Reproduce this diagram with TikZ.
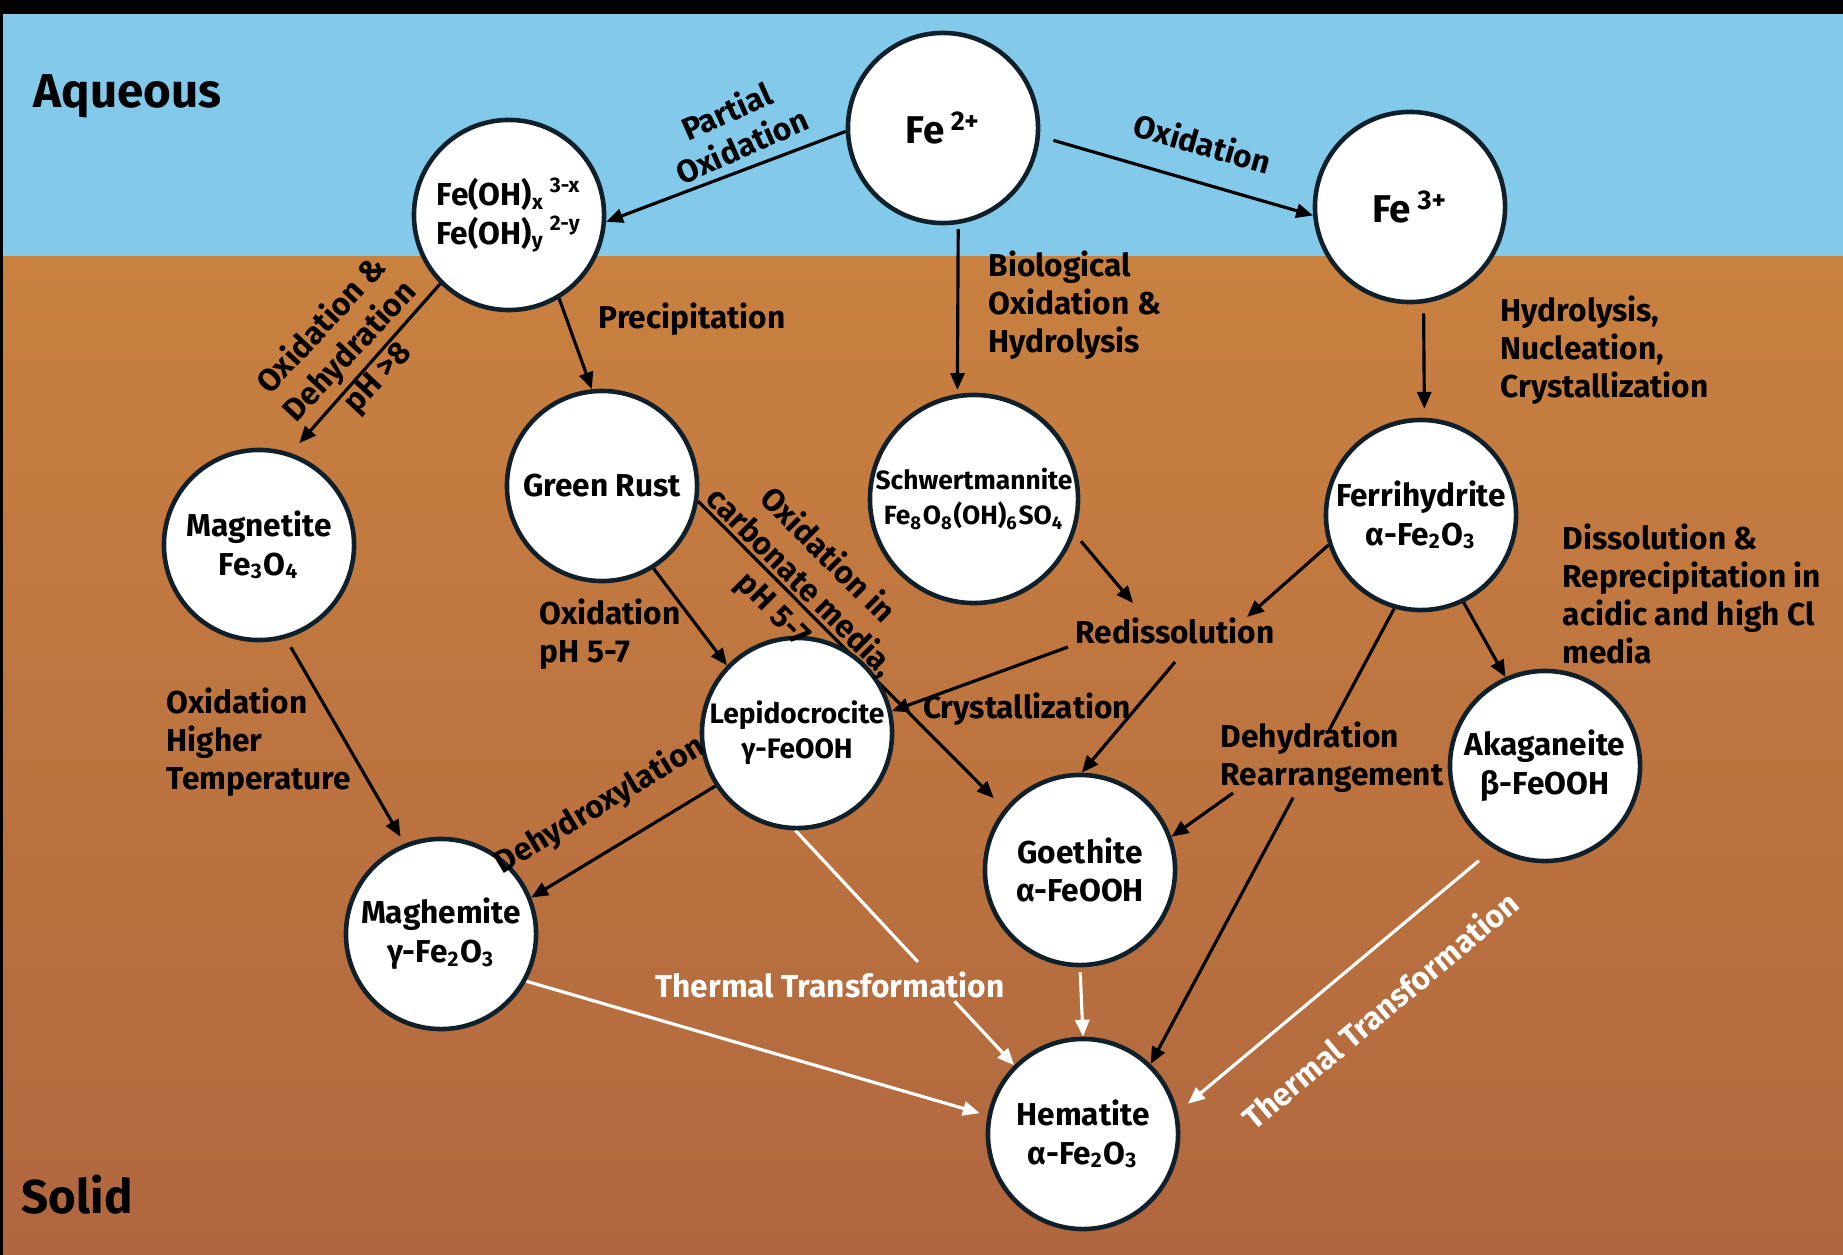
\documentclass[tikz,border=0pt]{standalone}
\usepackage{fontspec}
\setmainfont{Fira Sans}
\usepackage{tikz}
\usetikzlibrary{arrows.meta, calc, backgrounds}
\definecolor{aq-blue}{HTML}{83C9E9}
\definecolor{soil-top}{HTML}{C98140}
\definecolor{soil-bottom}{HTML}{B0673F}
\definecolor{ring}{HTML}{10202A}

\begin{document}
\begin{tikzpicture}[x=0.01cm, y=-0.01cm,
    mineral/.style={circle, draw=ring, line width=1.3pt, fill=white, minimum size=1.9cm, inner sep=0pt, align=center, font=\bfseries\fontsize{9}{11}\selectfont},
    ion/.style={mineral, font=\bfseries\fontsize{11}{13}\selectfont},
    lbl/.style={font=\bfseries\fontsize{9}{10.8}\selectfont, align=left, inner sep=0pt},
    rlbl/.style={lbl, align=center},
    phase/.style={font=\bfseries\fontsize{13.5}{16}\selectfont, inner sep=0pt},
    link/.style={line width=0.9pt},
    arrow/.style={-{Triangle[length=4.8pt, width=4pt]}, link},
    hot/.style={arrow, white}
]
\useasboundingbox (0,0) rectangle (1843,1255);

% Aqueous and solid bands
\begin{pgfonlayer}{background}
\fill[aq-blue] (0,0) rectangle (1843,257);
\shade[top color=soil-top, bottom color=soil-bottom] (0,257) rectangle (1843,1255);
\fill[black] (0,0) rectangle (1843,14);
\fill[black] (0,0) rectangle (3,1255);
\end{pgfonlayer}

\node[phase, anchor=base west] (aq) at (33,108) {Aqueous};
\node[phase, anchor=base west] (sol) at (21,1213) {Solid};

% Ions
\node[ion] (fe2) at (943,128) {Fe\,\textsuperscript{2+}};
\node[ion] (fe3) at (1410,207) {Fe\,\textsuperscript{3+}};
\node[mineral] (feoh) at (509,215) {Fe(OH)\textsubscript{x}\,\textsuperscript{3-x}\\Fe(OH)\textsubscript{y}\,\textsuperscript{2-y}};

% Minerals
\node[mineral] (gr) at (602,486) {Green Rust};
\node[mineral] (mag) at (259,545) {Magnetite\\Fe\textsubscript{3}O\textsubscript{4}};
\node[mineral, minimum size=2.08cm, font=\bfseries\fontsize{7.5}{10}\selectfont] (sch) at (974,499) {Schwertmannite\\Fe\textsubscript{8}O\textsubscript{8}(OH)\textsubscript{6}SO\textsubscript{4}};
\node[mineral] (fer) at (1421,515) {Ferrihydrite\\α-Fe\textsubscript{2}O\textsubscript{3}};
\node[mineral, font=\bfseries\fontsize{8}{10}\selectfont] (lep) at (797,733) {Lepidocrocite\\γ-FeOOH};
\node[mineral] (aka) at (1545,766) {Akaganeite\\β-FeOOH};
\node[mineral] (goe) at (1080,870) {Goethite\\α-FeOOH};
\node[mineral] (mgh) at (441,934) {Maghemite\\γ-Fe\textsubscript{2}O\textsubscript{3}};
\node[mineral] (hem) at (1083,1134) {Hematite\\α-Fe\textsubscript{2}O\textsubscript{3}};

% Process labels
\node[rlbl, rotate=24] (partox) at (734,128) {Partial\\Oxidation};
\node[rlbl, rotate=-16] (ox) at (1203,143) {Oxidation};
\node[lbl, anchor=west] (bio) at (988,305) {Biological\\Oxidation \&\\Hydrolysis};
\node[lbl, anchor=west] (hyd) at (1500,350) {Hydrolysis,\\Nucleation,\\Crystallization};
\node[lbl, anchor=west] (prec) at (598,319) {Precipitation};
\node[rlbl, rotate=47] (dehyd) at (350,352) {Oxidation \&\\Dehydration\\pH >8};
\node[lbl, anchor=west] (oxgr) at (539,634) {Oxidation\\pH 5-7};
\node[rlbl, rotate=-45] (carb) at (800,583) {Oxidation in\\carbonate media,\\pH 5-7};
\node[lbl, anchor=west] (oxht) at (166,742) {Oxidation\\Higher\\Temperature};
\node[rlbl, rotate=31] (dehydrox) at (600,805) {Dehydroxylation};
\node[lbl] (redis) at (1175,631) {Redissolution};
\node[lbl] (cryst) at (1027,709) {Crystallization};
\node[lbl, anchor=west] (dissol) at (1562,594) {Dissolution \&\\Reprecipitation in\\acidic and high Cl\\media};
\node[lbl] (rearr) at (1332,757) {Dehydration\\Rearrangement};
\node[lbl, white] (therm) at (830,985) {Thermal Transformation};
\node[lbl, white, rotate=40] (thermr) at (1380,1010) {Thermal Transformation};

% Arrows
\begin{pgfonlayer}{background}
\draw[arrow] (fe2.182) -- (feoh.-4);
\draw[arrow, shorten <=0.14cm] (fe2.-5) -- (fe3.185);
\draw[arrow, shorten <=0.05cm, shorten >=0.04cm] (fe2.-81.5) -- (sch.99.4);
\draw[arrow, shorten <=0.1cm, shorten >=0.09cm] (fe3.-82) -- (fer.88);
\draw[arrow] (feoh.-59) -- (gr.96);
\draw[arrow, shorten >=0.13cm] (feoh.-135) -- (mag.71);
\draw[arrow] (gr.-58) -- (lep.136);
\draw[arrow, shorten >=0.15cm] (gr.-9) -- (goe.141);
\draw[arrow, shorten <=0.1cm, shorten >=0.08cm] (mag.-74) -- (mgh.112);
\draw[arrow] (lep.213) -- (mgh.22);
\draw[arrow, shorten <=0.1cm] (sch.-19) -- ($(redis)+(-42,-28)$);
\draw[arrow] (fer.198) -- ($(redis)+(72,-14)$);
\draw[arrow] ($(redis)+(-107,16)$) -- (lep.13);
\draw[arrow] ($(redis)+(0,31)$) -- (goe.89);
\draw[arrow] (fer.-64) -- (aka.114);
\draw[link] (fer.-106) -- ($(fer.-106)!0.267!(hem.46)$);
\draw[arrow] ($(fer.-106)!0.415!(hem.46)$) -- (hem.46);
\draw[arrow] ($(rearr)+(-99,36)$) -- (goe.20);

% Thermal transformation
\draw[link, white] (lep.-91) -- ($(lep.-91)!0.56!(hem.135)$);
\draw[hot] ($(lep.-91)!0.728!(hem.135)$) -- (hem.135);
\draw[hot, shorten >=0.08cm] (mgh.-29) -- (hem.169);
\draw[hot, shorten <=0.05cm] (goe.-90) -- (hem.90);
\draw[hot, shorten <=0.19cm, shorten >=0.13cm] (aka.238) -- (hem.13);
\end{pgfonlayer}

\end{tikzpicture}
\end{document}
